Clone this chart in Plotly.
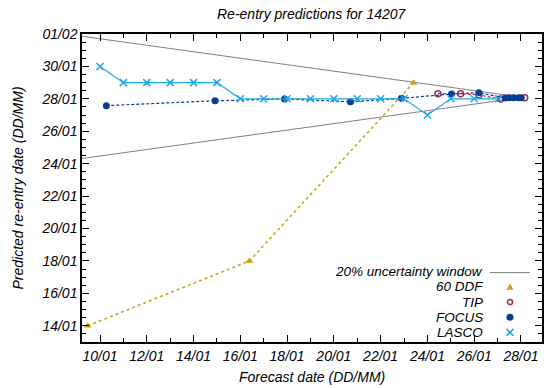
import numpy as np
import pandas as pd
import plotly.graph_objects as go

# ---- data (days of January; 32 = 1 February) ----
window_x = [9.23, 28.09]
window_upper = [31.86, 28.09]
window_lower = [24.32, 28.09]

ddf_x = [9.47, 16.39, 23.41]
ddf_y = [14.0, 18.0, 29.0]

tip_x = [24.45, 25.42, 26.20, 27.13, 28.16]
tip_y = [28.32, 28.32, 28.24, 27.99, 28.07]

focus_x = [10.27, 14.92, 17.89, 20.71, 22.89, 25.03, 26.20, 27.33, 27.50, 27.69, 27.90, 28.01]
focus_y = [27.58, 27.88, 27.99, 27.82, 28.03, 28.30, 28.38, 28.05, 28.07, 28.07, 28.07, 28.07]

lasco_x = [10.0, 11.0, 12.0, 13.0, 14.0, 15.0, 16.0, 17.0, 18.0, 19.0, 20.0, 21.0, 22.0, 23.0,
           24.0, 25.0, 26.0, 27.04]
lasco_y = [30.0, 29.0, 29.0, 29.0, 29.0, 29.0, 28.0, 28.0, 28.0, 28.0, 28.0, 28.0, 28.0, 28.0,
           27.0, 28.0, 28.0, 28.0]

legend_labels = ["20% uncertainty window", "60 DDF", "TIP", "FOCUS", "LASCO"]

BASE = pd.Timestamp("2020-01-01")


def to_date(days):
    return BASE + pd.to_timedelta(np.asarray(days, dtype=float) - 1.0, unit="D")


C_WIN = "#808080"
C_DDF = "#c8a010"
C_TIP = "#a03048"
C_FOCUS = "#0a3c96"
C_LASCO = "#1ea8e8"

FONT = dict(family="Liberation Sans, Arial, sans-serif", size=14, color="black", style="italic")
LEG_FONT = dict(FONT, size=13.5)

fig = go.Figure()
fig.add_trace(go.Scatter(x=to_date(window_x), y=to_date(window_upper), mode="lines",
                         line=dict(color=C_WIN, width=1), showlegend=False))
fig.add_trace(go.Scatter(x=to_date(window_x), y=to_date(window_lower), mode="lines",
                         line=dict(color=C_WIN, width=1), showlegend=False))
fig.add_trace(go.Scatter(x=to_date(ddf_x), y=to_date(ddf_y), mode="lines+markers",
                         line=dict(color=C_DDF, width=1.5, dash="dot"),
                         marker=dict(symbol="triangle-up", size=7, color=C_DDF), showlegend=False))
fig.add_trace(go.Scatter(x=to_date(tip_x), y=to_date(tip_y), mode="lines+markers",
                         line=dict(color=C_TIP, width=1.2, dash="3px,2px"),
                         marker=dict(symbol="circle-open", size=6, color=C_TIP, line=dict(width=1.5)),
                         showlegend=False))
fig.add_trace(go.Scatter(x=to_date(focus_x), y=to_date(focus_y), mode="lines+markers",
                         line=dict(color=C_FOCUS, width=1.2, dash="3px,2px"),
                         marker=dict(symbol="circle", size=7, color=C_FOCUS), showlegend=False))
fig.add_trace(go.Scatter(x=to_date(lasco_x), y=to_date(lasco_y), mode="lines+markers",
                         line=dict(color=C_LASCO, width=1.2),
                         marker=dict(symbol="x-thin", size=7, color=C_LASCO,
                                     line=dict(width=1.5, color=C_LASCO)),
                         showlegend=False))

DAY_MS = 86400000
axis_common = dict(showgrid=False, zeroline=False, showline=True, linecolor="black", linewidth=1.5,
                   mirror="allticks", ticks="inside", ticklen=7, tickwidth=1, tickcolor="black",
                   tickfont=FONT, tickformat="%d/%m")
fig.update_xaxes(type="date", range=[to_date([9.23])[0], to_date([28.9])[0]],
                 tick0=to_date([10])[0], dtick=2 * DAY_MS,
                 minor=dict(dtick=DAY_MS, ticks="inside", ticklen=4, tickcolor="black"),
                 **axis_common)
fig.update_yaxes(type="date", range=[to_date([13])[0], to_date([32])[0]],
                 tick0=to_date([14])[0], dtick=2 * DAY_MS,
                 minor=dict(dtick=DAY_MS // 2, ticks="inside", ticklen=4, tickcolor="black"),
                 **axis_common)

L, R, T, B = 82, 2, 34, 46
W, H = 544, 388
PW, PH = W - L - R, H - T - B


def px(xp):
    return (xp - L) / PW


def py(yp):
    return (H - B - yp) / PH


annotations = [
    dict(text="Re-entry predictions for 14207", x=0.5, xref="paper", y=py(14), yref="paper",
         showarrow=False, font=FONT, xanchor="center", yanchor="middle"),
    dict(text="Forecast date (DD/MM)", x=0.5, xref="paper", y=py(377), yref="paper",
         showarrow=False, font=FONT, xanchor="center", yanchor="middle"),
    dict(text="Predicted re-entry date (DD/MM)", x=px(17.5), xref="paper", y=0.5, yref="paper",
         showarrow=False, font=FONT, textangle=-90, xanchor="center", yanchor="middle"),
]
rows = [271.6, 286.8, 302.0, 317.2, 332.4]
for lab, ry in zip(legend_labels, rows):
    annotations.append(dict(text=lab, x=px(484), xref="paper", y=py(ry), yref="paper",
                            showarrow=False, font=LEG_FONT, xanchor="right", yanchor="middle",
                            borderpad=0))

sx = px(510)
shapes = [
    dict(type="line", xref="paper", yref="paper", x0=px(490), x1=px(530),
         y0=py(rows[0] + 1), y1=py(rows[0] + 1), line=dict(color=C_WIN, width=1)),
    # 60 DDF triangle
    dict(type="path", xref="paper", yref="paper", xsizemode="pixel", ysizemode="pixel",
         xanchor=sx, yanchor=py(rows[1]), path="M -3.5 -3 L 3.5 -3 L 0 3.5 Z",
         fillcolor=C_DDF, line=dict(width=0)),
    # TIP open circle
    dict(type="circle", xref="paper", yref="paper", xsizemode="pixel", ysizemode="pixel",
         xanchor=sx, yanchor=py(rows[2]), x0=-2.6, x1=2.6, y0=-2.6, y1=2.6,
         line=dict(color=C_TIP, width=1.5)),
    # FOCUS filled circle
    dict(type="circle", xref="paper", yref="paper", xsizemode="pixel", ysizemode="pixel",
         xanchor=sx, yanchor=py(rows[3]), x0=-3.3, x1=3.3, y0=-3.3, y1=3.3,
         fillcolor=C_FOCUS, line=dict(color=C_FOCUS, width=0.5)),
    # LASCO x
    dict(type="path", xref="paper", yref="paper", xsizemode="pixel", ysizemode="pixel",
         xanchor=sx, yanchor=py(rows[4]), path="M -3.5 -3.5 L 3.5 3.5 M -3.5 3.5 L 3.5 -3.5",
         line=dict(color=C_LASCO, width=1.5)),
]

fig.update_layout(width=W, height=H, margin=dict(l=L, r=R, t=T, b=B, autoexpand=False),
                  paper_bgcolor="white", plot_bgcolor="white", showlegend=False,
                  annotations=annotations, shapes=shapes)

fig.write_html("out.html", config={"displayModeBar": False},
               post_script="document.body.style.margin='0';document.body.style.overflow='hidden';")
